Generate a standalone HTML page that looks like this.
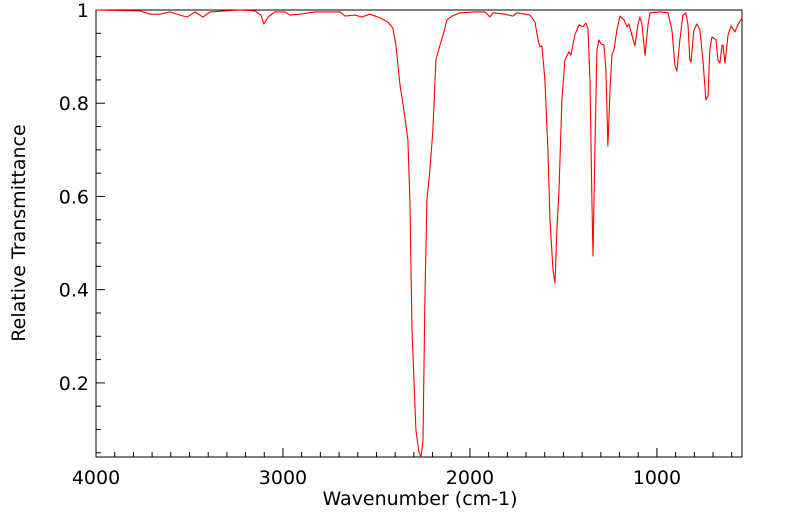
<!DOCTYPE html>
<html><head><meta charset="utf-8"><style>
html,body{margin:0;padding:0;background:#fff;width:799px;height:516px;overflow:hidden}
svg{display:block;font-family:"DejaVu Sans","Liberation Sans",sans-serif}
</style></head><body>
<svg id="chart" width="799" height="516" viewBox="0 0 799 516" xmlns="http://www.w3.org/2000/svg"></svg>
<script>
const wavenumbers=[4000,3765,3711,3658,3604,3551,3513,3471,3428,3390,3230,3150,3118,3102,3080,3043,2989,2963,2909,2829,2695,2668,2615,2578,2535,2481,2439,2412,2396,2374,2353,2332,2321,2310,2289,2273,2262,2251,2241,2230,2214,2198,2182,2160,2144,2123,2096,2053,1973,1920,1893,1877,1813,1770,1749,1679,1652,1636,1626,1615,1599,1583,1572,1556,1545,1535,1524,1508,1492,1471,1460,1439,1417,1396,1380,1369,1358,1348,1342,1332,1321,1310,1299,1283,1273,1262,1251,1241,1230,1214,1198,1176,1160,1150,1134,1118,1102,1091,1080,1064,1048,1037,984,941,920,904,893,877,861,845,834,824,818,802,786,770,754,738,727,717,706,684,674,663,652,647,636,620,604,583,567,545];
const transmittance=[1,.998,.991,.991,.996,.989,.985,.996,.985,.996,1,.998,.989,.970,.985,.996,.996,.989,.991,.996,.996,.987,.989,.985,.991,.983,.974,.961,.925,.839,.785,.721,.592,.313,.099,.052,.041,.077,.378,.592,.657,.742,.893,.925,.946,.979,.987,.994,.996,.996,.985,.994,.991,.987,.994,.989,.974,.936,.921,.923,.850,.700,.549,.442,.414,.528,.614,.807,.893,.910,.903,.946,.968,.964,.972,.961,.850,.592,.472,.700,.914,.936,.927,.925,.871,.708,.828,.903,.914,.957,.987,.979,.964,.970,.946,.923,.968,.985,.968,.903,.968,.994,.996,.994,.957,.882,.869,.936,.989,.994,.968,.893,.888,.957,.970,.957,.893,.807,.815,.914,.942,.936,.893,.886,.925,.925,.886,.946,.966,.953,.968,.983];
const xTicks=[4000,3000,2000,1000];
const yTicks=[0.2,0.4,0.6,0.8,1];
const yTickLabels=["0.2","0.4","0.6","0.8","1"];

const NS="http://www.w3.org/2000/svg";
const svg=document.getElementById('chart');
const L=96,R=742,T=10,B=457;
const X0=4000,X1=545,Y0=0.041,Y1=1;
function xs(v){return L+(X0-v)/(X0-X1)*(R-L);}
function ys(v){return B-(v-Y0)/(Y1-Y0)*(B-T);}
function mk(tag,attrs){const e=document.createElementNS(NS,tag);for(const k in attrs)e.setAttribute(k,attrs[k]);svg.appendChild(e);return e;}

const frame=mk('rect',{x:L,y:T,width:R-L,height:B-T,fill:'none',stroke:'#000','stroke-width':1});



for(let v=4000;v>=600;v-=100){
  const major=v%1000===0;
  const t=mk('line',{x1:xs(v),x2:xs(v),y1:B,y2:B-(major?9:5),stroke:'#000','stroke-width':1});
  
  
}
xTicks.forEach(v=>{
  const t=mk('text',{x:xs(v),y:484,'text-anchor':'middle','font-size':19,fill:'#000'});
  t.textContent=String(v);
  
  
});
for(let i=1;i<=20;i++){
  const v=i*0.05;
  if(v<Y0)continue;
  const major=i%4===0;
  const t=mk('line',{x1:L,x2:L+(major?9:5),y1:ys(v),y2:ys(v),stroke:'#000','stroke-width':1});
  
  
}
yTicks.forEach((v,i)=>{
  const t=mk('text',{x:89,y:ys(v)+7,'text-anchor':'end','font-size':19,fill:'#000'});
  t.textContent=yTickLabels[i];
  
  
});
const xt=mk('text',{x:420,y:505,'text-anchor':'middle','font-size':19,fill:'#000'});
xt.textContent='Wavenumber (cm-1)';


const yt=mk('text',{x:0,y:0,'text-anchor':'middle','font-size':19,fill:'#000',transform:'translate(25,233) rotate(-90)'});
yt.textContent='Relative Transmittance';



const pts=wavenumbers.map((w,i)=>xs(w).toFixed(1)+','+ys(transmittance[i]).toFixed(1)).join(' ');
const line=mk('polyline',{points:pts,fill:'none',stroke:'#ff0000','stroke-width':1.1,'stroke-linejoin':'round'});


</script>
</body></html>
